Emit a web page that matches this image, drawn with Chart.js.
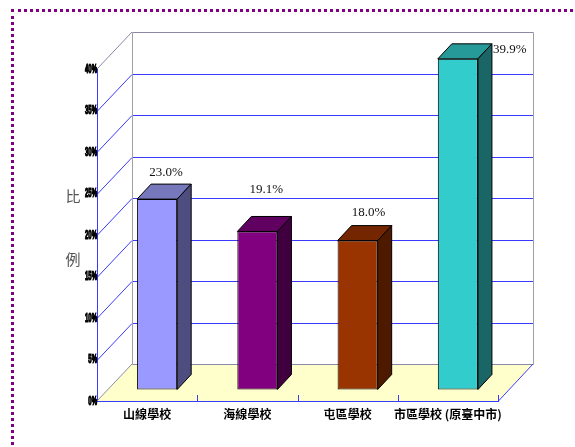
<!DOCTYPE html>
<html>
<head>
<meta charset="utf-8">
<script src="https://cdn.jsdelivr.net/npm/chart.js@4.4.1/dist/chart.umd.min.js"></script>
<style>
    html, body { margin: 0; padding: 0; background: #fff; overflow: hidden; }
    #wrap { position: relative; width: 575px; height: 447px; }
    #frame {
        position: absolute; left: 11px; top: 9px; width: 580px; height: 460px;
        border: 3px dotted #800080; box-sizing: border-box;
    }
    #chart { position: absolute; left: 0; top: 0; }
</style>
</head>
<body>
<div id="wrap">
    <div id="frame"></div>
    <canvas id="chart" width="575" height="447"></canvas>
</div>
<script>
    var schools = ["山線學校", "海線學校", "屯區學校", "市區學校 (原臺中市)"];
    var percents = [23.0, 19.1, 18.0, 39.9];
    var yTicks = [0, 5, 10, 15, 20, 25, 30, 35, 40];
    var axisTitle = ["比", "例"];

    function barColors() {
        return {
            front: ["#9999FF", "#800080", "#993300", "#33CCCC"],
            side:  ["#4D4D80", "#400040", "#4D1A00", "#1A6666"],
            top:   ["#7777BB", "#600060", "#732600", "#269999"]
        };
    }

    // depth of the box walls, and where the bars sit inside it
    var WALL_DX = 35, WALL_DY = 37;
    var BAR_SHIFT_X = 10, BAR_SHIFT_Y = 11;
    var BAR_DX = 14, BAR_DY = 15;
    var labelNudge = [[2, -12], [2, -27], [4, -13], [45, 6]];

    var BLUE = "#3a3aff";
    var WALL = "#8a8aa8";

    function line(ctx, x0, y0, x1, y1, color) {
        ctx.beginPath();
        ctx.strokeStyle = color;
        ctx.moveTo(x0, y0);
        ctx.lineTo(x1, y1);
        ctx.stroke();
    }

    function poly(ctx, pts, fill) {
        ctx.beginPath();
        ctx.moveTo(pts[0][0], pts[0][1]);
        for (var i = 1; i < pts.length; i++) ctx.lineTo(pts[i][0], pts[i][1]);
        ctx.closePath();
        ctx.fillStyle = fill;
        ctx.fill();
        ctx.strokeStyle = "#000";
        ctx.lineWidth = 1;
        ctx.stroke();
    }

    var boxPlugin = {
        id: 'box3d',
        beforeDatasetsDraw: function(chart) {
            var ctx = chart.ctx;
            var a = chart.chartArea;
            var yScale = chart.scales.y;
            var L = a.left, R = a.right, T = a.top, B = a.bottom;

            ctx.save();
            ctx.lineWidth = 1;

            // floor
            ctx.beginPath();
            ctx.moveTo(L, B);
            ctx.lineTo(R, B);
            ctx.lineTo(R + WALL_DX, B - WALL_DY);
            ctx.lineTo(L + WALL_DX, B - WALL_DY);
            ctx.closePath();
            ctx.fillStyle = "#FFFFCC";
            ctx.fill();

            // grid lines on the side and back walls
            yScale.ticks.forEach(function(t) {
                if (t.value === 0 || t.value === 40) return;
                var y = Math.round(yScale.getPixelForValue(t.value)) + 0.5;
                line(ctx, L, y, L + WALL_DX, y - WALL_DY, BLUE);
                line(ctx, L + WALL_DX, y - WALL_DY, R + WALL_DX, y - WALL_DY, BLUE);
            });

            // wall edges
            var bx = L + WALL_DX + 0.5, rx = R + WALL_DX + 0.5;
            var ty = T - WALL_DY + 0.5, by = B - WALL_DY + 0.5;
            line(ctx, L, T, L + WALL_DX, T - WALL_DY, WALL);
            line(ctx, bx, ty, rx, ty, WALL);
            line(ctx, bx, ty, bx, by, "#a0a0a0");
            line(ctx, rx, ty, rx, by, "#a0a0a0");
            line(ctx, L, B, L + WALL_DX, B - WALL_DY, WALL);
            line(ctx, bx, by, rx, by, WALL);
            line(ctx, R, B + 0.5, R + WALL_DX, B - WALL_DY, BLUE);
            line(ctx, L, B + 0.5, R, B + 0.5, BLUE);

            // category boundary marks on the front edge
            var step = (R - L) / schools.length;
            for (var i = 1; i <= schools.length; i++) {
                var x = Math.round(L + i * step) + 0.5;
                line(ctx, x, B, x, B - 6, BLUE);
            }
            ctx.restore();

            // bars stand in the middle of the floor depth
            ctx.save();
            ctx.translate(BAR_SHIFT_X, -BAR_SHIFT_Y);
        },
        afterDatasetsDraw: function(chart) {
            var ctx = chart.ctx;
            var colors = barColors();
            var meta = chart.getDatasetMeta(0);

            meta.data.forEach(function(bar, i) {
                var x0 = bar.x - bar.width / 2, x1 = bar.x + bar.width / 2;
                var top = bar.y, base = bar.base;
                poly(ctx, [[x0, top], [x1, top], [x1 + BAR_DX, top - BAR_DY], [x0 + BAR_DX, top - BAR_DY]], colors.top[i]);
                poly(ctx, [[x1, top], [x1 + BAR_DX, top - BAR_DY], [x1 + BAR_DX, base - BAR_DY], [x1, base]], colors.side[i]);
            });

            // value labels above the back edge of each box
            ctx.font = "13px 'Liberation Serif'";
            ctx.fillStyle = "#111";
            ctx.textAlign = "center";
            ctx.textBaseline = "middle";
            meta.data.forEach(function(bar, i) {
                var cx = bar.x + BAR_DX / 2 + labelNudge[i][0];
                var cy = bar.y - BAR_DY + labelNudge[i][1];
                ctx.fillText(percents[i].toFixed(1) + "%", cx, cy);
            });
            ctx.restore();

            var yScale = chart.scales.y;

            // squeezed, heavy tick labels on the value axis
            ctx.save();
            ctx.font = "bold 12px 'Liberation Sans'";
            ctx.fillStyle = "#000";
            ctx.strokeStyle = "#000";
            ctx.lineWidth = 1.2;
            ctx.textAlign = "right";
            ctx.textBaseline = "middle";
            yScale.ticks.forEach(function(t) {
                var y = yScale.getPixelForValue(t.value);
                ctx.save();
                ctx.translate(yScale.right, y + 0.5);
                ctx.scale(0.5, 1);
                ctx.fillText(t.value + "%", 0, 0);
                ctx.strokeText(t.value + "%", 0, 0);
                ctx.restore();
            });
            ctx.restore();

            // y axis title, one character per line
            ctx.save();
            ctx.font = "15px 'Noto Sans CJK TC'";
            ctx.fillStyle = "#555";
            ctx.textAlign = "center";
            ctx.textBaseline = "middle";
            ctx.fillText(axisTitle[0], 73, yScale.getPixelForValue(24.7));
            ctx.fillText(axisTitle[1], 73, yScale.getPixelForValue(17.1));
            ctx.restore();
        }
    };

    var ctx = document.getElementById('chart');
    var colors = barColors();

    var barChart = new Chart(ctx, {
        type: 'bar',
        data: {
            labels: schools,
            datasets: [{
                data: percents,
                backgroundColor: colors.front,
                borderColor: "#000",
                borderWidth: 1,
                borderSkipped: false,
                categoryPercentage: 1,
                barPercentage: 0.4,
                clip: false
            }]
        },
        options: {
            responsive: false,
            animation: false,
            devicePixelRatio: 1,
            layout: { padding: { left: 60, top: 69, right: 77, bottom: 0 } },
            plugins: {
                legend: { display: false },
                title: { display: false },
                tooltip: { enabled: false }
            },
            scales: {
                x: {
                    grid: { display: false },
                    border: { color: BLUE },
                    ticks: {
                        color: "#000",
                        padding: -2,
                        maxRotation: 0,
                        autoSkip: false,
                        font: { family: "'Noto Sans CJK TC'", size: 12, weight: 'bold' }
                    },
                    afterFit: function(scale) { scale.height = 46; }
                },
                y: {
                    min: 0,
                    max: 40,
                    afterBuildTicks: function(scale) {
                        scale.ticks = yTicks.map(function(v) { return { value: v }; });
                    },
                    grid: { drawOnChartArea: false, tickLength: 4, color: BLUE },
                    border: { color: BLUE },
                    ticks: { display: false },
                    afterFit: function(scale) { scale.width = 37; }
                }
            }
        },
        plugins: [boxPlugin]
    });
</script>
</body>
</html>
